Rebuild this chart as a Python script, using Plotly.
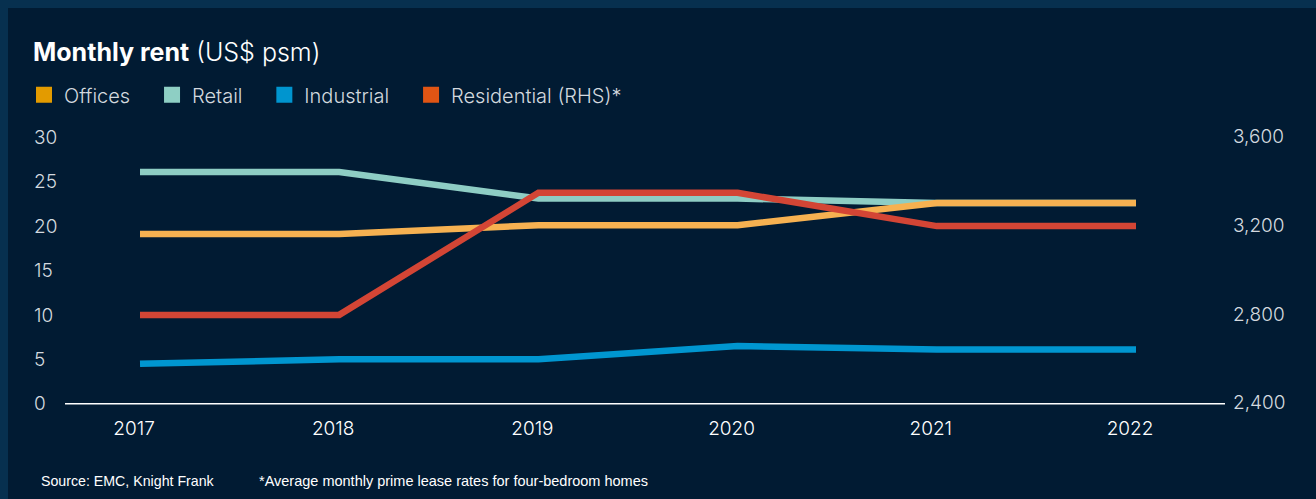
import plotly.graph_objects as go

years = [2017, 2018, 2019, 2020, 2021, 2022]
offices = [19.1, 19.1, 20.1, 20.1, 22.6, 22.6]
retail = [26.1, 26.1, 23.1, 23.1, 22.6, 22.6]
industrial = [4.5, 5.0, 5.0, 6.5, 6.1, 6.1]
residential = [2800, 2800, 3350, 3350, 3200, 3200]

left_ticks = [0, 5, 10, 15, 20, 25, 30]
right_ticks = [2400, 2800, 3200, 3600]

PANEL = "#011b33"
BORDER = "#07304f"
TICK = "#d3d9df"
FONT = "Inter"

# pixel geometry of the chart area
UNIT = (404 - 137.5) / 30          # px per left-axis unit
PAD = 1.5                           # extra range so inside labels at ends are kept
L, R = 31, 1225
T = 137.5 - PAD * UNIT
B = 404 + PAD * UNIT
W, H = R - L, B - T
XPX = (1136 - 140) / 5              # px per year
x0 = 2017 - (140 - L) / XPX
x1 = 2022 + (R - 1136) / XPX


def px_x(p):
    return (p - L) / W


def px_y(p):
    return (B - p) / H


fig = go.Figure()

# lines (residential on top)
fig.add_trace(go.Scatter(x=years, y=retail, mode="lines", line=dict(color="#8ecdc4", width=6.5),
                         showlegend=False, hoverinfo="skip"))
fig.add_trace(go.Scatter(x=years, y=offices, mode="lines", line=dict(color="#f6b151", width=6.5),
                         showlegend=False, hoverinfo="skip"))
fig.add_trace(go.Scatter(x=years, y=industrial, mode="lines", line=dict(color="#0096d0", width=6.5),
                         showlegend=False, hoverinfo="skip"))
fig.add_trace(go.Scatter(x=years, y=residential, mode="lines", line=dict(color="#d34535", width=6.5),
                         showlegend=False, hoverinfo="skip", yaxis="y2"))

# legend entries with square swatches
legend_items = [("Offices", "#e39b00"), ("Retail", "#8ecfc4"),
                ("Industrial", "#0095cf"), ("Residential (RHS)*", "#e05514")]
for name, col in legend_items:
    fig.add_trace(go.Scatter(x=[None], y=[None], mode="markers", name=name + "\u00a0" * 3,
                             marker=dict(symbol="square", size=18, color=col)))

# border strips + baseline
shapes = [
    dict(type="rect", xref="paper", yref="paper", x0=px_x(-5), x1=px_x(1330), y0=px_y(8), y1=px_y(-5),
         fillcolor=BORDER, line=dict(width=0), layer="below"),
    dict(type="rect", xref="paper", yref="paper", x0=px_x(-5), x1=px_x(8), y0=px_y(510), y1=px_y(-5),
         fillcolor=BORDER, line=dict(width=0), layer="below"),
    dict(type="line", xref="paper", yref="y", x0=px_x(65), x1=1, y0=0, y1=0,
         line=dict(color="#ffffff", width=1.5)),
]

annotations = [
    dict(text="<b>Monthly rent</b> <span style='font-weight:300'>(US$ psm)</span>",
         xref="paper", yref="paper", x=px_x(31), y=px_y(52), xanchor="left", yanchor="middle",
         showarrow=False, font=dict(family=FONT, size=25, color="#ffffff")),
    dict(text="Source: EMC, Knight Frank", xref="paper", yref="paper", x=px_x(39), y=px_y(481),
         xanchor="left", yanchor="middle", showarrow=False,
         font=dict(family="Liberation Sans", size=14.2, color="#ffffff")),
    dict(text="*Average monthly prime lease rates for four-bedroom homes", xref="paper", yref="paper",
         x=px_x(257), y=px_y(481), xanchor="left", yanchor="middle", showarrow=False,
         font=dict(family="Liberation Sans", size=14.5, color="#ffffff")),
]

fig.update_layout(
    width=1316, height=499,
    margin=dict(l=L, r=1316 - R, t=T, b=499 - B, autoexpand=False),
    paper_bgcolor=PANEL, plot_bgcolor=PANEL,
    font=dict(family=FONT, color=TICK),
    xaxis=dict(range=[x0, x1], tickvals=years, ticktext=[str(y) for y in years],
               showgrid=False, zeroline=False, showline=False, ticks="", automargin=False,
               tickfont=dict(size=19, color="#ffffff", weight=300), ticklabelstandoff=-2,
               ticklabelshift=-6),
    yaxis=dict(range=[-PAD, 30 + PAD], tickvals=left_ticks, showgrid=False, zeroline=False,
               showline=False, ticks="", ticklabelposition="inside", automargin=False,
               tickfont=dict(size=19, color=TICK, weight=300)),
    yaxis2=dict(range=[2400 - PAD * 40, 3600 + PAD * 40], tickvals=right_ticks, tickformat=",",
                overlaying="y", side="right", showgrid=False, zeroline=False, showline=False,
                ticks="", automargin=False, ticklabelstandoff=7, ticklabelshift=-1,
                tickfont=dict(size=19, color=TICK, weight=300)),
    legend=dict(orientation="h", x=px_x(24), y=px_y(95), xanchor="left", yanchor="middle",
                font=dict(size=20, color=TICK, weight=300, family=FONT), bgcolor="rgba(0,0,0,0)",
                itemclick=False, itemsizing="trace"),
    shapes=shapes,
    annotations=annotations,
)

# drop the browser's default 8px page margin so the figure sits at the window origin
fig.write_html("out.html", config={"displayModeBar": False},
               post_script="document.body.style.margin='0';")
